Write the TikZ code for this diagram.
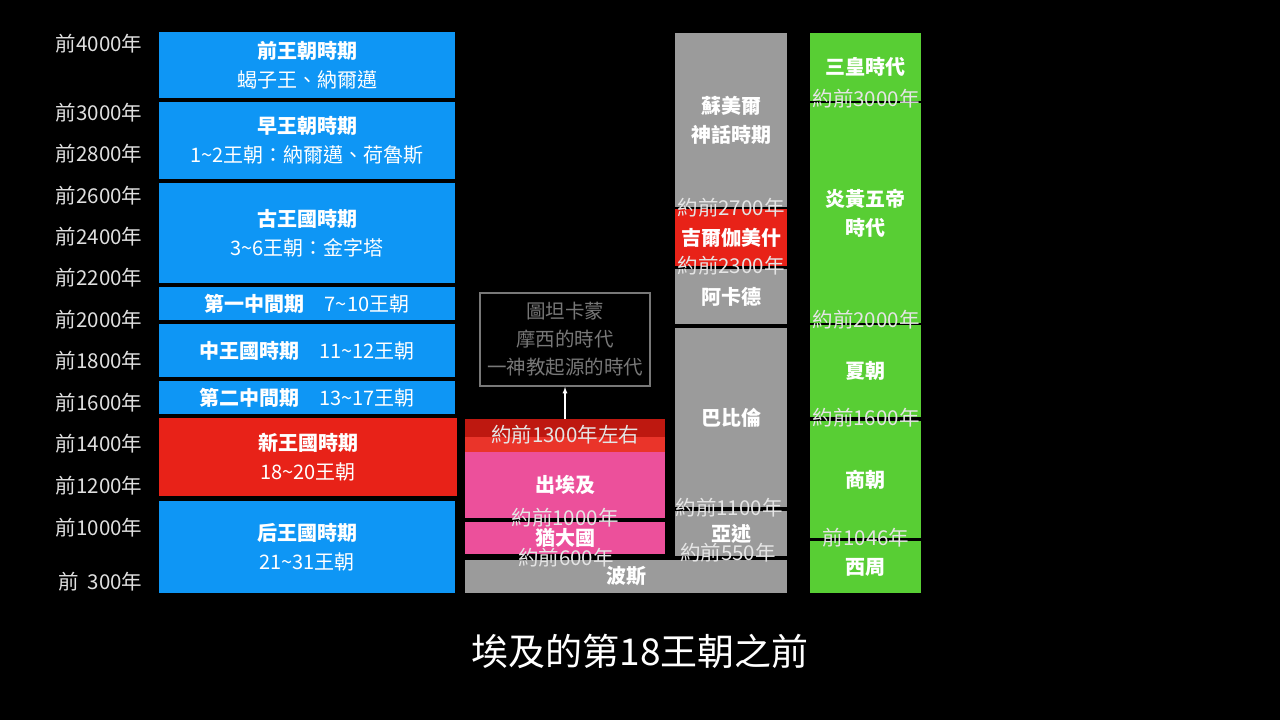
\documentclass[tikz,border=0pt]{standalone}
\usepackage{fontspec}
\setmainfont{Noto Sans CJK TC}
\usepackage{xcolor}
\usepackage{tikz}
\usetikzlibrary{arrows,positioning,calc}
\definecolor{nileblue}{RGB}{14,150,245}
\definecolor{kingdomred}{RGB}{232,34,24}
\definecolor{bandred}{RGB}{190,24,16}
\definecolor{exoduspink}{RGB}{236,80,155}
\definecolor{mesogray}{RGB}{155,155,155}
\definecolor{chinagreen}{RGB}{88,206,52}
\definecolor{notegray}{RGB}{120,120,120}

\begin{document}
\begin{tikzpicture}[x=1pt,y=-1pt,
    sized/.style 2 args={minimum width=#1pt,minimum height=#2pt},
    period/.style={inner sep=0pt,text=white,align=center,font=\fontsize{20}{29}\selectfont},
    yearlabel/.style={anchor=east,text=white!88!black,font=\fontsize{20.5}{24}\selectfont},
    datelabel/.style={text=white!90!black,font=\fontsize{20.5}{22}\selectfont}]
    % Background
    \fill[black] (0,0) rectangle (1280,720);

    % Year axis
    \node[yearlabel] (y4000) at (146,44) {前4000年};
    \node[yearlabel] (y3000) at (146,113) {前3000年};
    \node[yearlabel] (y2800) at (146,154) {前2800年};
    \node[yearlabel] (y2600) at (146,196) {前2600年};
    \node[yearlabel] (y2400) at (146,237) {前2400年};
    \node[yearlabel] (y2200) at (146,278) {前2200年};
    \node[yearlabel] (y2000) at (146,320) {前2000年};
    \node[yearlabel] (y1800) at (146,361) {前1800年};
    \node[yearlabel] (y1600) at (146,403) {前1600年};
    \node[yearlabel] (y1400) at (146,444) {前1400年};
    \node[yearlabel] (y1200) at (146,486) {前1200年};
    \node[yearlabel] (y1000) at (146,528) {前1000年};
    \node[yearlabel] (y300) at (146,582) {前\ \ 300年};

    % Egyptian periods
    \node[period,fill=nileblue,sized={296}{66}] (predyn) at (307,65) {\textbf{前王朝時期}\\蝎子王、納爾邁};
    \node[period,fill=nileblue,sized={296}{77}] (early) at (307,140.5) {\textbf{早王朝時期}\\1\char`\~2王朝：納爾邁、荷魯斯};
    \node[period,fill=nileblue,sized={296}{100}] (old) at (307,233) {\textbf{古王國時期}\\3\char`\~6王朝：金字塔};
    \node[period,fill=nileblue,sized={296}{33}] (first) at (307,303.5) {\textbf{第一中間期}\quad 7\char`\~10王朝};
    \node[period,fill=nileblue,sized={296}{53}] (middle) at (307,350.5) {\textbf{中王國時期}\quad 11\char`\~12王朝};
    \node[period,fill=nileblue,sized={296}{33}] (second) at (307,397.5) {\textbf{第二中間期}\quad 13\char`\~17王朝};
    \node[period,fill=kingdomred,sized={298}{78}] (newk) at (308,457) {\textbf{新王國時期}\\18\char`\~20王朝};
    \node[period,fill=nileblue,sized={296}{92}] (late) at (307,547) {\textbf{后王國時期}\\21\char`\~31王朝};

    % Israel
    \node[period,draw=notegray,line width=1.8pt,text=notegray,sized={170}{93},font=\fontsize{19.5}{28}\selectfont] (tut) at (565,339.5) {圖坦卡蒙\\摩西的時代\\一神教起源的時代};
    \node[period,fill=kingdomred!92!white,sized={200}{33},
        path picture={\fill[bandred] (path picture bounding box.north west) rectangle ($(path picture bounding box.north east)+(0,18)$);}] (band) at (565,435.5) {};
    \node[period,fill=exoduspink,sized={200}{66}] (exodus) at (565,485) {\textbf{出埃及}};
    \node[period,fill=exoduspink,sized={200}{32}] (judah) at (565,538) {\textbf{猶大國}};
    \node[period,fill=mesogray,sized={322}{33}] (persia) at (626,576.5) {\textbf{波斯}};
    \draw[-latex,white,line width=1.2pt] (band.north) -- (band.north |- tut.south);

    % Mesopotamia
    \node[period,fill=mesogray,sized={112}{174}] (sumer) at (731,120) {\textbf{蘇美爾}\\\textbf{神話時期}};
    \node[period,fill=kingdomred,sized={112}{57}] (gilg) at (731,237.5) {\textbf{吉爾伽美什}};
    \node[period,fill=mesogray,sized={112}{55}] (akkad) at (731,296.5) {\textbf{阿卡德}};
    \node[period,fill=mesogray,sized={112}{179}] (babylon) at (731,417.5) {\textbf{巴比倫}};
    \node[period,fill=mesogray,sized={112}{45}] (assyria) at (731,533.5) {\textbf{亞述}};

    % China
    \node[period,fill=chinagreen,sized={111}{68}] (sanhuang) at (865.5,67) {\textbf{三皇時代}};
    \node[period,fill=chinagreen,sized={111}{220}] (wudi) at (865.5,213) {\textbf{炎黃五帝}\\\textbf{時代}};
    \node[period,fill=chinagreen,sized={111}{92}] (xia) at (865.5,371) {\textbf{夏朝}};
    \node[period,fill=chinagreen,sized={111}{117}] (shang) at (865.5,479.5) {\textbf{商朝}};
    \node[period,fill=chinagreen,sized={111}{52}] (zhou) at (865.5,567) {\textbf{西周}};

    % Dates
    \node[datelabel] (d1300) at (565,435) {約前1300年左右};
    \node[datelabel] (d1000) at (565,518) {約前1000年};
    \node[datelabel] (d600) at (566,558) {約前600年};
    \node[datelabel] (d2700) at (731,208) {約前2700年};
    \node[datelabel] (d2300) at (731,266) {約前2300年};
    \node[datelabel] (d1100) at (729,508) {約前1100年};
    \node[datelabel] (d550) at (728,553) {約前550年};
    \node[datelabel] (d3000) at (866,99) {約前3000年};
    \node[datelabel] (d2000) at (866,320) {約前2000年};
    \node[datelabel] (d1600) at (866,418) {約前1600年};
    \node[datelabel] (d1046) at (866,538) {前1046年};

    % Caption
    \node[text=white,font=\fontsize{37}{42}\selectfont] (caption) at (640,651) {埃及的第18王朝之前};
\end{tikzpicture}
\end{document}
